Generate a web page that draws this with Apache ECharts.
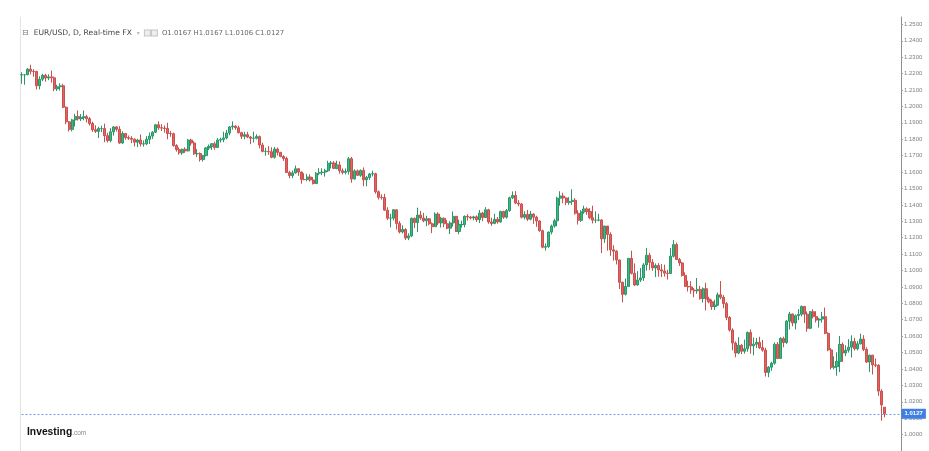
<!DOCTYPE html>
<html>
<head>
<meta charset="utf-8">
<script src="https://cdn.jsdelivr.net/npm/echarts@6/dist/echarts.min.js"></script>
<style>
html,body{margin:0;padding:0;background:#fff;}
#chart{width:929px;height:451px;}
</style>
</head>
<body>
<div id="chart"></div>
<script>
// Instrument text
const symbolTitle = 'EUR/USD, D, Real-time FX';
const brandName = 'Investing';
const brandSuffix = '.com';

// Y axis ticks
const yMin = 0.99;
const yMax = 1.2545;
const yStep = 0.01;

// Daily candles, [open, close, low, high] (27 May 2021 .. 7 Jul 2022)
const candles2021a = [
[1.2192,1.2193,1.2138,1.2208],[1.2193,1.2193,1.2132,1.2198],[1.2193,1.2227,1.2190,1.2234],[1.2227,1.2214,1.2195,1.2254],
[1.2214,1.2213,1.2181,1.2227],[1.2213,1.2126,1.2104,1.2217],[1.2126,1.2166,1.2104,1.2184],[1.2166,1.2190,1.2154,1.2199],
[1.2190,1.2173,1.2151,1.2199],[1.2173,1.2180,1.2160,1.2196],[1.2180,1.2174,1.2145,1.2218],[1.2174,1.2107,1.2093,1.2182],
[1.2107,1.2120,1.2094,1.2132],[1.2120,1.2126,1.2097,1.2141],[1.2126,1.1995,1.1990,1.2138],[1.1995,1.1906,1.1892,1.2000],
[1.1906,1.1860,1.1847,1.1910],[1.1860,1.1918,1.1848,1.1924],[1.1918,1.1939,1.1878,1.1955],[1.1939,1.1925,1.1914,1.1975],
[1.1925,1.1932,1.1911,1.1954],[1.1932,1.1937,1.1915,1.1975],[1.1937,1.1925,1.1902,1.1949],[1.1925,1.1896,1.1883,1.1936],
[1.1896,1.1858,1.1845,1.1907],[1.1858,1.1848,1.1838,1.1885],[1.1848,1.1865,1.1807,1.1876],[1.1865,1.1865,1.1843,1.1882],
[1.1865,1.1822,1.1782,1.1895],[1.1822,1.1792,1.1780,1.1839],[1.1792,1.1845,1.1781,1.1868],[1.1845,1.1875,1.1822,1.1880],
[1.1875,1.1861,1.1847,1.1880],[1.1861,1.1777,1.1772,1.1880],[1.1777,1.1835,1.1772,1.1849],[1.1835,1.1810,1.1797,1.1838],
[1.1810,1.1806,1.1796,1.1823],[1.1806,1.1800,1.1776,1.1819],[1.1800,1.1782,1.1756,1.1806],[1.1782,1.1795,1.1752,1.1803],
[1.1795,1.1771,1.1756,1.1829],[1.1771,1.1772,1.1755,1.1793],[1.1772,1.1800,1.1764,1.1819],[1.1800,1.1819,1.1771,1.1841],
[1.1819,1.1843,1.1802,1.1849],[1.1843,1.1888,1.1838,1.1893],[1.1888,1.1870,1.1857,1.1909],[1.1870,1.1868,1.1850,1.1892],
[1.1868,1.1866,1.1840,1.1884],[1.1866,1.1835,1.1800,1.1900],[1.1835,1.1834,1.1815,1.1850],[1.1834,1.1762,1.1754,1.1840],
[1.1762,1.1737,1.1725,1.1770],[1.1737,1.1717,1.1706,1.1750],[1.1717,1.1739,1.1705,1.1743],[1.1739,1.1729,1.1717,1.1751],
[1.1729,1.1795,1.1726,1.1801],[1.1795,1.1777,1.1761,1.1803],[1.1777,1.1711,1.1705,1.1788],[1.1711,1.1713,1.1692,1.1740],
[1.1713,1.1676,1.1664,1.1720],[1.1676,1.1700,1.1664,1.1705],[1.1700,1.1747,1.1696,1.1752],[1.1747,1.1756,1.1734,1.1768],
[1.1756,1.1772,1.1735,1.1776],[1.1772,1.1750,1.1736,1.1785],[1.1750,1.1795,1.1748,1.1807],[1.1795,1.1798,1.1780,1.1810],
[1.1798,1.1808,1.1782,1.1846],[1.1808,1.1838,1.1800,1.1857],[1.1838,1.1875,1.1824,1.1880],[1.1875,1.1880,1.1858,1.1909]
];
const candles2021b = [
[1.1880,1.1870,1.1858,1.1885],[1.1870,1.1840,1.1835,1.1883],[1.1840,1.1818,1.1801,1.1846],[1.1818,1.1828,1.1800,1.1845],
[1.1828,1.1813,1.1807,1.1845],[1.1813,1.1806,1.1770,1.1820],[1.1806,1.1806,1.1780,1.1846],[1.1806,1.1816,1.1799,1.1830],
[1.1816,1.1765,1.1745,1.1823],[1.1765,1.1726,1.1720,1.1779],[1.1726,1.1726,1.1700,1.1748],[1.1726,1.1724,1.1705,1.1758],
[1.1724,1.1690,1.1684,1.1751],[1.1690,1.1740,1.1682,1.1753],[1.1740,1.1720,1.1701,1.1749],[1.1720,1.1695,1.1690,1.1723],
[1.1695,1.1683,1.1668,1.1703],[1.1683,1.1597,1.1595,1.1694],[1.1597,1.1579,1.1562,1.1608],[1.1579,1.1595,1.1563,1.1609],
[1.1595,1.1620,1.1590,1.1640],[1.1620,1.1600,1.1577,1.1625],[1.1600,1.1555,1.1529,1.1603],[1.1555,1.1554,1.1550,1.1593],
[1.1554,1.1570,1.1544,1.1589],[1.1570,1.1552,1.1542,1.1586],[1.1552,1.1530,1.1524,1.1570],[1.1530,1.1593,1.1527,1.1600],
[1.1593,1.1597,1.1581,1.1624],[1.1597,1.1600,1.1581,1.1623],[1.1600,1.1608,1.1572,1.1620],[1.1608,1.1653,1.1600,1.1669],
[1.1653,1.1655,1.1622,1.1667],[1.1655,1.1623,1.1618,1.1667],[1.1623,1.1643,1.1617,1.1669],[1.1643,1.1608,1.1590,1.1665],
[1.1608,1.1598,1.1586,1.1623],[1.1598,1.1604,1.1586,1.1622],[1.1604,1.1681,1.1585,1.1692],[1.1681,1.1558,1.1535,1.1692],
[1.1558,1.1607,1.1554,1.1617],[1.1607,1.1580,1.1577,1.1616],[1.1580,1.1610,1.1571,1.1616],[1.1610,1.1553,1.1514,1.1628],
[1.1553,1.1567,1.1513,1.1576],[1.1567,1.1588,1.1553,1.1594],[1.1588,1.1590,1.1573,1.1608],[1.1590,1.1480,1.1468,1.1596],
[1.1480,1.1446,1.1433,1.1488],[1.1446,1.1445,1.1432,1.1464],[1.1445,1.1368,1.1364,1.1467],[1.1368,1.1319,1.1308,1.1386],
[1.1319,1.1319,1.1263,1.1346],[1.1319,1.1370,1.1305,1.1374],[1.1370,1.1287,1.1250,1.1373],[1.1287,1.1235,1.1226,1.1301],
[1.1235,1.1250,1.1226,1.1275],[1.1250,1.1198,1.1186,1.1258],[1.1198,1.1211,1.1185,1.1227],[1.1211,1.1318,1.1204,1.1323],
[1.1318,1.1292,1.1258,1.1323],[1.1292,1.1338,1.1235,1.1383],[1.1338,1.1320,1.1309,1.1363],[1.1320,1.1303,1.1294,1.1351],
[1.1303,1.1315,1.1270,1.1334],[1.1315,1.1285,1.1276,1.1320],[1.1285,1.1267,1.1228,1.1293],[1.1267,1.1344,1.1266,1.1354],
[1.1344,1.1290,1.1277,1.1355],[1.1290,1.1318,1.1262,1.1327],[1.1318,1.1285,1.1264,1.1324],[1.1285,1.1258,1.1251,1.1307],
[1.1258,1.1290,1.1222,1.1300],[1.1290,1.1330,1.1268,1.1360],[1.1330,1.1238,1.1235,1.1333],[1.1238,1.1280,1.1221,1.1309],
[1.1280,1.1280,1.1261,1.1304],[1.1280,1.1330,1.1263,1.1336],[1.1330,1.1326,1.1303,1.1343],[1.1326,1.1320,1.1311,1.1332],
[1.1320,1.1327,1.1306,1.1334],[1.1327,1.1310,1.1296,1.1336],[1.1310,1.1350,1.1289,1.1369],[1.1350,1.1323,1.1300,1.1358],
[1.1323,1.1370,1.1321,1.1386]
];
const candles2022a = [
[1.1370,1.1296,1.1285,1.1376],[1.1296,1.1287,1.1272,1.1322],[1.1287,1.1312,1.1282,1.1346],[1.1312,1.1296,1.1285,1.1326],
[1.1296,1.1360,1.1292,1.1364],[1.1360,1.1325,1.1315,1.1364],[1.1325,1.1365,1.1316,1.1375],[1.1365,1.1443,1.1358,1.1450],
[1.1443,1.1457,1.1435,1.1482],[1.1457,1.1411,1.1405,1.1484],[1.1411,1.1405,1.1391,1.1429],[1.1405,1.1325,1.1317,1.1411],
[1.1325,1.1342,1.1312,1.1362],[1.1342,1.1313,1.1302,1.1369],[1.1313,1.1344,1.1306,1.1363],[1.1344,1.1325,1.1284,1.1348],
[1.1325,1.1302,1.1266,1.1334],[1.1302,1.1243,1.1236,1.1306],[1.1243,1.1142,1.1135,1.1249],[1.1142,1.1146,1.1121,1.1165],
[1.1146,1.1234,1.1138,1.1238],[1.1234,1.1271,1.1220,1.1280],[1.1271,1.1303,1.1261,1.1315],[1.1303,1.1441,1.1269,1.1449],
[1.1441,1.1454,1.1395,1.1483],[1.1454,1.1442,1.1410,1.1474],[1.1442,1.1415,1.1398,1.1446],[1.1415,1.1421,1.1400,1.1447],
[1.1421,1.1428,1.1400,1.1495],[1.1428,1.1349,1.1340,1.1441],[1.1349,1.1306,1.1280,1.1368],[1.1306,1.1357,1.1296,1.1368],
[1.1357,1.1375,1.1346,1.1395],[1.1375,1.1360,1.1339,1.1385],[1.1360,1.1322,1.1312,1.1380],[1.1322,1.1307,1.1287,1.1395],
[1.1307,1.1307,1.1289,1.1360],[1.1307,1.1308,1.1300,1.1346],[1.1308,1.1193,1.1106,1.1313],[1.1193,1.1271,1.1168,1.1273],
[1.1271,1.1220,1.1121,1.1240],[1.1220,1.1126,1.1090,1.1233],[1.1126,1.1118,1.1060,1.1154],[1.1118,1.1064,1.1037,1.1124],
[1.1064,1.0928,1.0887,1.1067],[1.0928,1.0855,1.0806,1.0933],[1.0855,1.0903,1.0848,1.0951],[1.0903,1.1074,1.0899,1.1077],
[1.1074,1.0983,1.0976,1.1121],[1.0983,1.0912,1.0905,1.1043],[1.0912,1.0942,1.0907,1.0996],[1.0942,1.0955,1.0930,1.1015],
[1.0955,1.1034,1.0937,1.1045],[1.1034,1.1093,1.1000,1.1137],[1.1093,1.1050,1.1003,1.1108],[1.1050,1.1016,1.0998,1.1069],
[1.1016,1.1030,1.0960,1.1043],[1.1030,1.1004,1.0962,1.1045],[1.1004,1.0997,1.0960,1.1039],[1.0997,1.0984,1.0963,1.1036],
[1.0984,1.0982,1.0945,1.1004],[1.0982,1.1087,1.0981,1.1137],[1.1087,1.1158,1.1080,1.1185],[1.1158,1.1067,1.1065,1.1170],
[1.1067,1.1046,1.1028,1.1076]
];
const candles2022b = [
[1.1046,1.0970,1.0963,1.1053],[1.0970,1.0903,1.0900,1.0989],[1.0903,1.0900,1.0872,1.0938],[1.0900,1.0881,1.0858,1.0935],
[1.0881,1.0876,1.0837,1.0893],[1.0876,1.0885,1.0858,1.0954],[1.0885,1.0829,1.0822,1.0906],[1.0829,1.0889,1.0805,1.0897],
[1.0889,1.0826,1.0757,1.0925],[1.0826,1.0809,1.0800,1.0840],[1.0809,1.0780,1.0760,1.0823],[1.0780,1.0789,1.0760,1.0822],
[1.0789,1.0852,1.0784,1.0866],[1.0852,1.0837,1.0825,1.0936],[1.0837,1.0798,1.0770,1.0850],[1.0798,1.0714,1.0697,1.0808],
[1.0714,1.0637,1.0628,1.0722],[1.0637,1.0558,1.0514,1.0648],[1.0558,1.0497,1.0471,1.0568],[1.0497,1.0545,1.0490,1.0594],
[1.0545,1.0508,1.0491,1.0551],[1.0508,1.0523,1.0493,1.0579],[1.0523,1.0622,1.0505,1.0629],[1.0622,1.0541,1.0493,1.0641],
[1.0541,1.0551,1.0483,1.0592],[1.0551,1.0562,1.0528,1.0589],[1.0562,1.0530,1.0522,1.0596],[1.0530,1.0515,1.0505,1.0577],
[1.0515,1.0379,1.0354,1.0529],[1.0379,1.0411,1.0350,1.0418],[1.0411,1.0435,1.0389,1.0444],[1.0435,1.0550,1.0426,1.0562],
[1.0550,1.0464,1.0460,1.0564],[1.0464,1.0586,1.0462,1.0594],[1.0586,1.0561,1.0532,1.0597],[1.0561,1.0691,1.0553,1.0698],
[1.0691,1.0735,1.0641,1.0748],[1.0735,1.0680,1.0660,1.0737],[1.0680,1.0725,1.0641,1.0732],[1.0725,1.0733,1.0697,1.0765],
[1.0733,1.0781,1.0720,1.0787],[1.0781,1.0734,1.0680,1.0784],[1.0734,1.0648,1.0627,1.0750],[1.0648,1.0749,1.0642,1.0753],
[1.0749,1.0719,1.0708,1.0764],[1.0719,1.0698,1.0683,1.0752],[1.0698,1.0704,1.0652,1.0711],[1.0704,1.0718,1.0683,1.0748],
[1.0718,1.0617,1.0612,1.0774],[1.0617,1.0516,1.0508,1.0624],[1.0516,1.0410,1.0397,1.0527],[1.0410,1.0414,1.0397,1.0477],
[1.0414,1.0446,1.0359,1.0502],[1.0446,1.0549,1.0381,1.0601],[1.0549,1.0497,1.0444,1.0561],[1.0497,1.0514,1.0478,1.0545],
[1.0514,1.0533,1.0500,1.0582],[1.0533,1.0567,1.0469,1.0605],[1.0567,1.0523,1.0512,1.0590],[1.0523,1.0553,1.0513,1.0570],
[1.0553,1.0582,1.0549,1.0615],[1.0582,1.0519,1.0509,1.0606],[1.0519,1.0442,1.0436,1.0532],[1.0442,1.0484,1.0382,1.0487],
[1.0484,1.0425,1.0366,1.0486],[1.0425,1.0423,1.0411,1.0464],[1.0423,1.0265,1.0236,1.0428],[1.0265,1.0181,1.0085,1.0276],
[1.0167,1.0127,1.0106,1.0167]
];

const candles = [].concat(candles2021a, candles2021b, candles2022a, candles2022b);
const emptySlotsRight = 5;
const categories = [];
for (let i = 0; i < candles.length + emptySlotsRight; i++) categories.push(String(i));

const last = candles[candles.length - 1];
const fmt = v => v.toFixed(4);
const ohlcText = 'O' + fmt(last[0]) + ' H' + fmt(last[3]) + ' L' + fmt(last[2]) + ' C' + fmt(last[1]);

const chart = echarts.init(document.getElementById('chart'), null, {renderer: 'canvas'});
chart.setOption({
  animation: false,
  backgroundColor: '#ffffff',
  title: {
    left: 17, top: 19,
    text: '{ic|⊟} {t|' + symbolTitle + '} {ar|▾} {bx|}{sp|}{bx|} {v|' + ohlcText + '}',
    textStyle: {
      fontWeight: 'normal',
      rich: {
        ic: {fontSize: 8, color: '#777', fontFamily: 'DejaVu Sans', fontWeight: 'normal'},
        t: {fontSize: 7.6, color: '#444', fontFamily: 'DejaVu Sans', fontWeight: 'normal'},
        ar: {fontSize: 6, color: '#bbb', fontFamily: 'DejaVu Sans', fontWeight: 'normal'},
        bx: {width: 5, height: 5, borderColor: '#c4c4c4', borderWidth: 1, backgroundColor: '#eeeeee'},
        sp: {width: 2},
        v: {fontSize: 6.9, color: '#666', fontFamily: 'DejaVu Sans', fontWeight: 'normal'}
      }
    }
  },
  graphic: [{
    type: 'text', left: 27, top: 427,
    style: {
      text: '{b|' + brandName + '}{c|' + brandSuffix + '}',
      rich: {
        b: {fontSize: 10.3, fontWeight: 'bold', fontFamily: 'Liberation Sans', fill: '#111'},
        c: {fontSize: 6.5, fontFamily: 'Liberation Sans', fill: '#888', padding: [2, 0, 0, 0]}
      }
    }
  }],
  grid: {left: 20, right: 28, top: 17, bottom: 0},
  xAxis: {
    type: 'category', data: categories, boundaryGap: true,
    axisLine: {show: false}, axisTick: {show: false}, axisLabel: {show: false}, splitLine: {show: false}
  },
  yAxis: [{
    type: 'value', position: 'right', min: yMin, max: yMax, interval: yStep,
    axisLine: {show: true, lineStyle: {color: '#8f8f8f', width: 1}},
    axisTick: {show: true, length: 2, lineStyle: {color: '#999'}},
    axisLabel: {show: true, fontSize: 6, color: '#808080', margin: 3, fontFamily: 'Liberation Sans',
      formatter: v => v.toFixed(4), showMinLabel: false, showMaxLabel: false},
    splitLine: {show: false}
  }, {
    type: 'value', position: 'left', min: yMin, max: yMax, interval: yStep,
    axisLine: {show: true, lineStyle: {color: '#e3e3e3', width: 1}},
    axisTick: {show: false}, axisLabel: {show: false}, splitLine: {show: false}
  }],
  series: [{
    type: 'candlestick',
    data: candles,
    yAxisIndex: 0,
    barWidth: '86%',
    itemStyle: {
      color: '#3bb980', borderColor: '#2a976b',
      color0: '#e4625f', borderColor0: '#c9504d',
      borderWidth: 1
    },
    markLine: {
      silent: true, symbol: ['none', 'none'],
      lineStyle: {color: '#6d9be6', type: [2, 2], width: 1},
      label: {
        position: 'end', distance: 2, formatter: () => fmt(last[1]),
        color: '#fff', backgroundColor: '#3f7ee3', fontSize: 6, fontWeight: 'bold',
        padding: [2, 3, 2, 3], fontFamily: 'Liberation Sans'
      },
      data: [[{coord: [0, last[1]]}, {coord: [categories.length - 1, last[1]]}]]
    }
  }]
});
</script>
</body>
</html>
